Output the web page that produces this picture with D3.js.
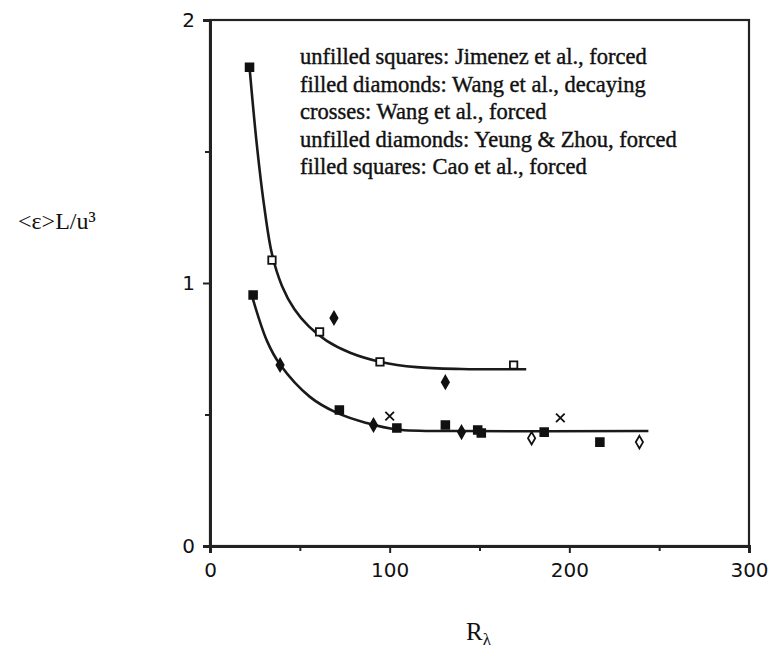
<!DOCTYPE html>
<html>
<head>
<meta charset="utf-8">
<script src="https://cdn.jsdelivr.net/npm/d3@7/dist/d3.min.js"></script>
<style>
  body { margin: 0; background: #fff; }
  .tick text { font-family: "DejaVu Sans", sans-serif; }
</style>
</head>
<body>
<div id="chart"></div>
<script>
// data: [R_lambda, <eps>L/u^3]
var upperFit = [[22, 1.82], [26, 1.53], [30, 1.30], [34.5, 1.11], [40, 0.99], [47, 0.90], [55, 0.835], [65, 0.78], [78, 0.735], [95, 0.70], [115, 0.68], [140, 0.673], [176, 0.672]];
var lowerFit = [[23.4, 0.95], [31.7, 0.78], [39, 0.69], [55.6, 0.567], [70.7, 0.506], [87, 0.468], [104, 0.443], [140, 0.437], [244, 0.437]];

var unfilledSquares = [[34.5, 1.087], [61, 0.814], [94.6, 0.70], [169, 0.688]];
var filledDiamonds = [[69, 0.867], [131, 0.623], [39, 0.688], [91, 0.46], [140, 0.433]];
var crosses = [[100, 0.494], [195, 0.487]];
var unfilledDiamonds = [[179, 0.41], [239, 0.395]];
var filledSquares = [[22, 1.82], [24, 0.954], [72, 0.517], [104, 0.449], [131, 0.46], [149, 0.441], [151, 0.43], [186, 0.433], [217, 0.395]];

var legendLines = [
    "unfilled squares:  Jimenez et al., forced",
    "filled diamonds: Wang et al., decaying",
    "crosses: Wang et al., forced",
    "unfilled diamonds: Yeung & Zhou, forced",
    "filled squares: Cao et al., forced"
];
var xTicks = [0, 100, 200, 300];
var xMinor = [50, 150, 250];
var yTicks = [0, 1, 2];
var yMinor = [0.5, 1.5];

var width = 780;
var height = 655;
var margins = { top: 20, right: 31, bottom: 109, left: 210 };
var chartWidth = width - margins.left - margins.right;
var chartHeight = height - margins.top - margins.bottom;

var svg = d3.select("#chart").append("svg")
    .attr("width", width)
    .attr("height", height);

var chartGroup = svg.append("g")
    .attr("transform", `translate(${margins.left}, ${margins.top})`);

var x = d3.scaleLinear().domain([0, 300]).range([0, chartWidth]);
var y = d3.scaleLinear().domain([0, 2]).range([chartHeight, 0]);

// frame
chartGroup.append("rect")
    .attr("x", 0).attr("y", 0)
    .attr("width", chartWidth).attr("height", chartHeight)
    .attr("fill", "none").attr("stroke", "#222").attr("stroke-width", 2.2);

// axes
chartGroup.append("g")
    .attr("transform", `translate(0, ${chartHeight})`)
    .call(d3.axisBottom(x).tickValues(xTicks).tickSize(7).tickPadding(10).tickFormat(d3.format("d")));
chartGroup.append("g")
    .attr("transform", `translate(0, ${chartHeight})`)
    .call(d3.axisBottom(x).tickValues(xMinor).tickSize(5).tickFormat(""));
chartGroup.append("g")
    .call(d3.axisLeft(y).tickValues(yTicks).tickSize(7).tickPadding(8).tickFormat(d3.format("d")));
chartGroup.append("g")
    .call(d3.axisLeft(y).tickValues(yMinor).tickSize(5).tickFormat(""));

chartGroup.selectAll(".domain").attr("stroke", "#222").attr("stroke-width", 3);
chartGroup.selectAll(".tick line").attr("stroke", "#222").attr("stroke-width", 2);
chartGroup.selectAll(".tick text").attr("font-size", "20px").attr("fill", "#111");

// fitted curves
var line = d3.line()
    .x(d => x(d[0]))
    .y(d => y(d[1]))
    .curve(d3.curveCatmullRom.alpha(0.5));

[upperFit, lowerFit].forEach(function (fit) {
    chartGroup.append("path")
        .datum(fit)
        .attr("d", line)
        .attr("fill", "none")
        .attr("stroke", "#1a1a1a")
        .attr("stroke-width", 2.6);
});

// markers
function drawMarkers(data, type, size, filled) {
    chartGroup.selectAll(null)
        .data(data)
        .enter()
        .append("path")
        .attr("transform", d => `translate(${x(d[0])}, ${y(d[1])})`)
        .attr("d", d3.symbol().type(type).size(size))
        .attr("fill", filled ? "#111" : "#fff")
        .attr("stroke", "#111")
        .attr("stroke-width", 1.8);
}
drawMarkers(unfilledSquares, d3.symbolSquare, 55, false);
drawMarkers(filledDiamonds, d3.symbolDiamond, 45, true);
drawMarkers(crosses, d3.symbolX, 50, false);
drawMarkers(unfilledDiamonds, d3.symbolDiamond, 45, false);
drawMarkers(filledSquares, d3.symbolSquare, 60, true);

// legend text
chartGroup.selectAll(".legendText")
    .data(legendLines)
    .enter()
    .append("text")
    .attr("class", "legendText")
    .attr("x", 90)
    .attr("y", (d, i) => 44 + i * 27.5)
    .attr("font-family", "Liberation Serif, serif")
    .attr("font-size", "22.5px")
    .attr("fill", "#111")
    .attr("stroke", "#111")
    .attr("stroke-width", 0.4)
    .text(d => d);

// axis titles
var xTitle = svg.append("text")
    .attr("x", 466)
    .attr("y", 640)
    .attr("font-family", "Liberation Serif, serif")
    .attr("font-size", "25px")
    .attr("fill", "#111");
xTitle.append("tspan").text("R");
xTitle.append("tspan").attr("font-size", "17px").attr("dy", 5).text("λ");

svg.append("text")
    .attr("x", 18)
    .attr("y", 229)
    .attr("font-family", "Liberation Serif, serif")
    .attr("font-size", "24px")
    .attr("fill", "#111")
    .text("<ε>L/u³");
</script>
</body>
</html>
